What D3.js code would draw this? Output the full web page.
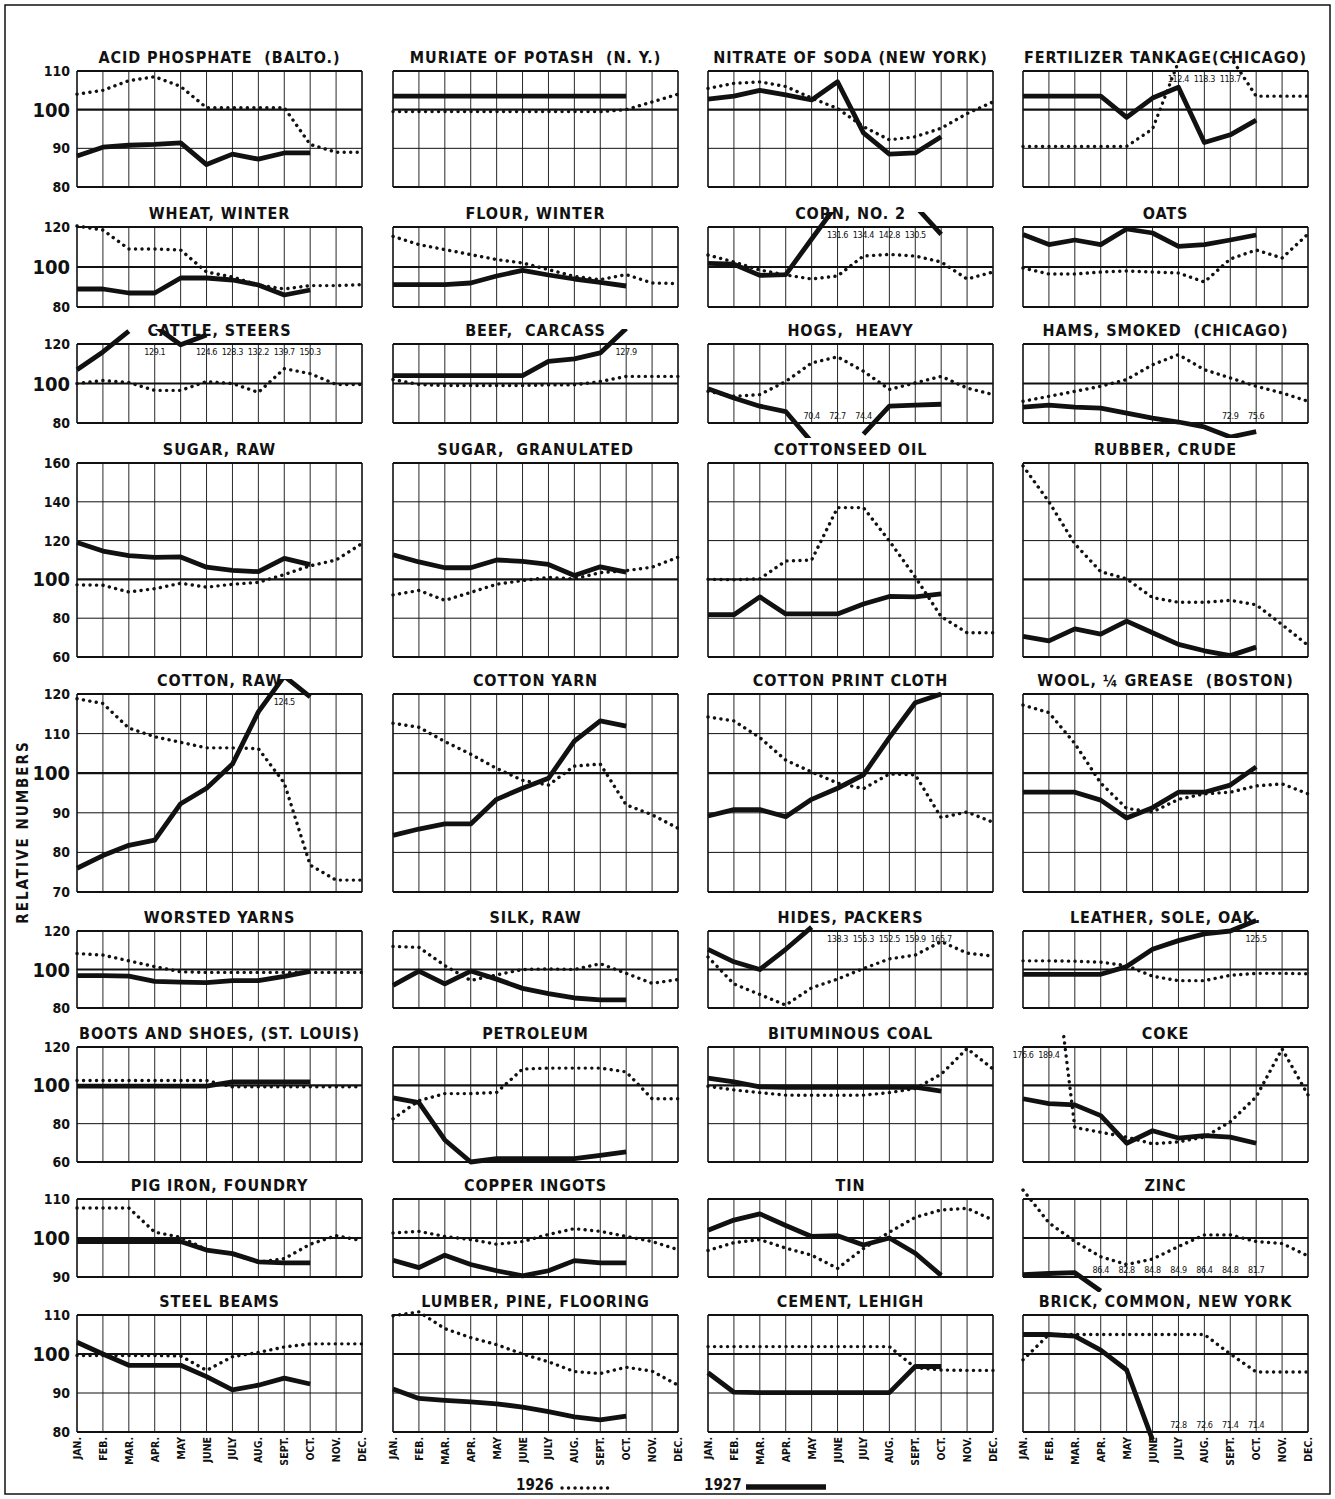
<!DOCTYPE html>
<html>
<head>
<meta charset="utf-8">
<script src="https://cdnjs.cloudflare.com/ajax/libs/d3/7.8.5/d3.min.js"></script>
<style>
  body { margin: 0; background: #fff; }
  svg text { font-family: "Liberation Sans Narrow", "DejaVu Sans Condensed", "Roboto", sans-serif; fill: #111; }
</style>
</head>
<body>
<svg id="chart" width="1335" height="1499"></svg>
<script>
// ---- data: relative numbers, 1926 (dotted, Jan-Dec) and 1927 (solid, Jan-Oct) ----
var monthLabels = ["JAN.", "FEB.", "MAR.", "APR.", "MAY", "JUNE", "JULY", "AUG.", "SEPT.", "OCT.", "NOV.", "DEC."];

var rowTicks = [
  [80, 90, 100, 110],
  [80, 100, 120],
  [80, 100, 120],
  [60, 80, 100, 120, 140, 160],
  [70, 80, 90, 100, 110, 120],
  [80, 100, 120],
  [60, 80, 100, 120],
  [90, 100, 110],
  [80, 90, 100, 110]
];

var titles = [
  "ACID PHOSPHATE  (BALTO.)", "MURIATE OF POTASH  (N. Y.)", "NITRATE OF SODA (NEW YORK)", "FERTILIZER TANKAGE(CHICAGO)",
  "WHEAT, WINTER", "FLOUR, WINTER", "CORN, NO. 2", "OATS",
  "CATTLE, STEERS", "BEEF,  CARCASS", "HOGS,  HEAVY", "HAMS, SMOKED  (CHICAGO)",
  "SUGAR, RAW", "SUGAR,  GRANULATED", "COTTONSEED OIL", "RUBBER, CRUDE",
  "COTTON, RAW", "COTTON YARN", "COTTON PRINT CLOTH", "WOOL, \u00BC GREASE  (BOSTON)",
  "WORSTED YARNS", "SILK, RAW", "HIDES, PACKERS", "LEATHER, SOLE, OAK.",
  "BOOTS AND SHOES, (ST. LOUIS)", "PETROLEUM", "BITUMINOUS COAL", "COKE",
  "PIG IRON, FOUNDRY", "COPPER INGOTS", "TIN", "ZINC",
  "STEEL BEAMS", "LUMBER, PINE, FLOORING", "CEMENT, LEHIGH", "BRICK, COMMON, NEW YORK"
];

var acid26 = [104, 105, 107.5, 108.5, 106, 100.5, 100.5, 100.5, 100.5, 91, 89, 89];
var acid27 = [88, 90.3, 90.8, 91, 91.4, 85.8, 88.5, 87.2, 88.8, 88.8];
var potash26 = [99.5, 99.5, 99.5, 99.5, 99.5, 99.5, 99.5, 99.5, 99.5, 100, 102, 104];
var potash27 = [103.5, 103.5, 103.5, 103.5, 103.5, 103.5, 103.5, 103.5, 103.5, 103.5];
var nitrate26 = [105.5, 106.8, 107.2, 106, 103, 100.3, 95.6, 92.2, 93, 95.2, 99, 102];
var nitrate27 = [102.7, 103.5, 105, 103.8, 102.5, 107.2, 94, 88.5, 88.8, 93];
var tankage26 = [90.5, 90.5, 90.5, 90.5, 90.5, 95, 112.4, 118.3, 113.7, 103.5, 103.5, 103.5];
var tankage27 = [103.5, 103.5, 103.5, 103.5, 98, 103, 105.8, 91.5, 93.5, 97.3];

var wheat26 = [120.5, 118.5, 109, 109, 108.5, 97.5, 95, 91, 89, 90.7, 90.7, 91.2];
var wheat27 = [89, 89, 87, 87, 94.5, 94.5, 93.5, 91, 86, 88.5];
var flour26 = [115.3, 111.2, 108.7, 106.2, 103.7, 102, 98.7, 95.3, 93.7, 96.2, 92, 91.7];
var flour27 = [91.2, 91.2, 91.2, 92, 95.5, 98.3, 96, 94, 92.3, 90.5];
var corn26 = [106, 102.5, 98.5, 96, 94, 95.5, 105.5, 106.3, 105.5, 102.5, 94, 97.5];
var corn27 = [101.8, 101.4, 95.8, 96.2, 114, 131.6, 134.4, 142.8, 130.5, 116.3];
var oats26 = [99.5, 96.5, 96.5, 97.5, 98, 97.5, 97, 92.5, 104, 108.5, 104.5, 116.5];
var oats27 = [116.2, 111.2, 113.5, 111.2, 119, 117, 110.3, 111.2, 113.5, 116];

var cattle26 = [100, 101.5, 100.5, 96.5, 96.5, 101, 100, 95.5, 107.5, 105, 99.5, 99.5];
var cattle27 = [107, 116, 126.5, 129.1, 119.6, 124.6, 128.3, 132.2, 139.7, 150.3];
var beef26 = [102, 99.5, 99, 99, 99, 99, 99.3, 99.3, 101, 103.6, 103.6, 103.6];
var beef27 = [104, 104, 104, 104, 104, 104, 111.2, 112.5, 115.5, 127.9];
var hogs26 = [96, 93.5, 94.4, 101, 110.4, 113.5, 106.2, 97, 100.3, 103.6, 97.7, 94.4];
var hogs27 = [97.4, 92.7, 88.5, 85.8, 70.4, 72.7, 74.4, 88.5, 89, 89.5];
var hams26 = [91, 93.5, 96, 98.6, 102, 109.5, 114.6, 107, 102.8, 98.6, 95.2, 91];
var hams27 = [88, 89, 88, 87.5, 85, 82.5, 80.5, 78, 72.9, 75.6];

var sugar26 = [97.2, 97, 93.5, 95.2, 98, 96, 97.5, 98.5, 102.5, 107, 110, 118.5];
var sugar27 = [119, 114.6, 112.3, 111.4, 111.6, 106.3, 104.6, 104, 110.8, 107.6];
var granulated26 = [92, 94.3, 89.2, 93.3, 97.5, 99.4, 101, 100.3, 103.5, 104.5, 106.3, 111.4];
var granulated27 = [112.7, 109, 106, 106, 110, 109.3, 107.7, 102, 106.5, 103.8];
var cottonseed26 = [100.1, 99.8, 100.3, 109.5, 110, 137, 137, 119.8, 101.2, 80.8, 72.5, 72.5];
var cottonseed27 = [81.8, 81.8, 91, 82.2, 82.2, 82.2, 87.3, 91.2, 91, 92.5];
var rubber26 = [158.5, 140, 118.3, 104, 100.3, 90.6, 88.2, 88.2, 89.2, 86.9, 76.7, 66];
var rubber27 = [70.6, 68.3, 74.5, 71.8, 78.5, 72.5, 66.5, 63.2, 60.7, 65.1];

var cottonRaw26 = [118.8, 117.6, 111.4, 109.2, 107.8, 106.4, 106.4, 106.2, 97.5, 76.8, 73, 73];
var cottonRaw27 = [76, 79.2, 81.8, 83.1, 92.3, 96.2, 102.3, 115.5, 124.5, 119.3];
var yarn26 = [112.6, 111.6, 108, 104.8, 101.2, 98.2, 97, 101.8, 102.3, 92, 89.5, 86.1];
var yarn27 = [84.3, 85.9, 87.2, 87.2, 93.4, 96.2, 98.7, 108.1, 113.2, 111.9];
var printCloth26 = [114.2, 113.2, 109, 103.3, 100.3, 97.5, 96.1, 99.8, 99.6, 88.8, 90.2, 87.6];
var printCloth27 = [89.2, 90.8, 90.8, 89, 93.4, 96.2, 99.6, 109, 117.8, 120];
var wool26 = [117.2, 115.3, 107.5, 97.5, 91.1, 90.2, 93.4, 94.8, 95.2, 96.8, 97.3, 94.8];
var wool27 = [95.2, 95.2, 95.2, 93.2, 88.7, 91.3, 95.2, 95.2, 97, 101.6];

var worsted26 = [108.3, 107.5, 104.5, 101.5, 98.8, 98.5, 98.5, 98.5, 98.5, 98.5, 98.5, 98.5];
var worsted27 = [96.8, 96.8, 96.6, 93.8, 93.4, 93.2, 94.2, 94.2, 96.4, 99];
var silk26 = [112, 111.5, 102, 94.3, 97.2, 100, 100.3, 100, 103, 98, 92.8, 94.8];
var silk27 = [91.8, 99.2, 92.5, 99.2, 95, 90.2, 87.5, 85.2, 84.2, 84.2];
var hides26 = [106.5, 92.5, 87, 81.5, 90.5, 95, 100.5, 105.5, 107.5, 114.5, 108.5, 107];
var hides27 = [110.5, 104, 100, 110.5, 122, 138.3, 155.3, 152.5, 159.9, 165.7];
var leather26 = [104.5, 104.5, 104.3, 103.8, 102, 96.5, 94.2, 94.2, 97, 98, 98, 97.8];
var leather27 = [97.5, 97.5, 97.5, 97.5, 101.5, 110.5, 115, 118.5, 120, 125.5];

var boots26 = [102.5, 102.5, 102.5, 102.5, 102.5, 102.5, 99.2, 99.2, 99.2, 99.2, 99.2, 99.2];
var boots27 = [99.6, 99.6, 99.6, 99.6, 99.6, 99.6, 101.8, 101.8, 101.8, 101.8];
var petroleum26 = [82.5, 92, 95.7, 95.7, 96.3, 108.5, 109, 109, 109, 107, 93, 93];
var petroleum27 = [93.5, 91, 71.5, 60, 61.8, 61.8, 61.8, 61.8, 63.5, 65.3];
var coal26 = [99.5, 97.6, 96.2, 94.9, 94.8, 94.8, 94.9, 96.2, 98.3, 105.8, 119.2, 108.5];
var coal27 = [103.8, 101.8, 99.2, 99, 99, 99, 99, 99, 99, 97];
var coke26 = [176.6, 189.4, 78, 75.5, 73, 69.5, 70.5, 73, 81, 94, 119, 95];
var coke27 = [93, 90.5, 89.8, 84.2, 69.8, 76.3, 72.5, 73.8, 73, 69.8];

var pig26 = [107.7, 107.7, 107.7, 101.5, 100.2, 97, 95.8, 93.8, 94.7, 98.4, 100.6, 99.3];
var pig27 = [99.1, 99.1, 99.1, 99.1, 99.1, 96.9, 96, 93.9, 93.6, 93.6];
var copper26 = [101.3, 101.7, 100.4, 99.6, 98.4, 99.1, 100.9, 102.4, 101.7, 100.4, 99.1, 97];
var copper27 = [94.3, 92.4, 95.6, 93.2, 91.6, 90.3, 91.6, 94.2, 93.6, 93.6];
var tin26 = [96.8, 98.8, 99.6, 97.4, 95.6, 92.2, 97.3, 101.5, 105.3, 107.2, 107.6, 104.6];
var tin27 = [102, 104.6, 106.2, 103.2, 100.4, 100.6, 98.2, 100, 96.1, 90.4];
var zinc26 = [112.3, 103.9, 99.1, 95.2, 93.2, 94.6, 97.8, 100.8, 100.8, 99.1, 98.6, 95.4];
var zinc27 = [90.6, 90.9, 91.1, 86.4, 82.8, 84.8, 84.9, 86.4, 84.8, 81.7];

var steel26 = [99.6, 99.6, 99.6, 99.6, 99.5, 95.8, 99.3, 100.4, 101.8, 102.6, 102.6, 102.6];
var steel27 = [103, 100, 97.1, 97.1, 97.1, 94.2, 90.8, 92, 93.8, 92.3];
var lumber26 = [109.8, 110.8, 106.5, 104.2, 102.4, 100, 98, 95.5, 95, 96.6, 95.6, 92];
var lumber27 = [91, 88.6, 88.1, 87.7, 87.2, 86.4, 85.2, 83.9, 83.1, 84.1];
var cement26 = [101.9, 101.9, 101.9, 101.9, 101.9, 101.9, 101.9, 101.9, 96.5, 95.9, 95.8, 95.8];
var cement27 = [95.2, 90.2, 90.1, 90.1, 90.1, 90.1, 90.1, 90.1, 96.8, 96.8];
var brick26 = [98.5, 105, 105, 105, 105, 105, 105, 105, 100, 95.4, 95.4, 95.4];
var brick27 = [105, 105, 104.6, 101, 95.9, 78, 72.8, 72.6, 71.4, 71.4];

// off-scale values printed as numbers: [month index, text]
var tankage26Labels = [[6, "112.4"], [7, "118.3"], [8, "113.7"]];
var corn27Labels = [[5, "131.6"], [6, "134.4"], [7, "142.8"], [8, "130.5"]];
var cattle27Labels = [[3, "129.1"], [5, "124.6"], [6, "128.3"], [7, "132.2"], [8, "139.7"], [9, "150.3"]];
var beef27Labels = [[9, "127.9"]];
var hogs27Labels = [[4, "70.4"], [5, "72.7"], [6, "74.4"]];
var hams27Labels = [[8, "72.9"], [9, "75.6"]];
var cottonRaw27Labels = [[8, "124.5"]];
var hides27Labels = [[5, "138.3"], [6, "155.3"], [7, "152.5"], [8, "159.9"], [9, "165.7"]];
var leather27Labels = [[9, "125.5"]];
var coke26Labels = [[0, "176.6"], [1, "189.4"]];
var zinc27Labels = [[3, "86.4"], [4, "82.8"], [5, "84.8"], [6, "84.9"], [7, "86.4"], [8, "84.8"], [9, "81.7"]];
var brick27Labels = [[6, "72.8"], [7, "72.6"], [8, "71.4"], [9, "71.4"]];

// month index i: the stretch i -> i+1 lies wholly off the chart and is not drawn
var tankage26Gaps = [6, 7];
var corn27Gaps = [5, 6, 7];
var cattle27Gaps = [2, 5, 6, 7, 8];
var hogs27Gaps = [4, 5];
var hides27Gaps = [4, 5, 6, 7, 8];
var coke26Gaps = [0];
var zinc27Gaps = [3, 4, 5, 6, 7, 8];
var brick27Gaps = [5, 6, 7, 8];

var series26 = [acid26, potash26, nitrate26, tankage26, wheat26, flour26, corn26, oats26,
  cattle26, beef26, hogs26, hams26, sugar26, granulated26, cottonseed26, rubber26,
  cottonRaw26, yarn26, printCloth26, wool26, worsted26, silk26, hides26, leather26,
  boots26, petroleum26, coal26, coke26, pig26, copper26, tin26, zinc26,
  steel26, lumber26, cement26, brick26];
var series27 = [acid27, potash27, nitrate27, tankage27, wheat27, flour27, corn27, oats27,
  cattle27, beef27, hogs27, hams27, sugar27, granulated27, cottonseed27, rubber27,
  cottonRaw27, yarn27, printCloth27, wool27, worsted27, silk27, hides27, leather27,
  boots27, petroleum27, coal27, coke27, pig27, copper27, tin27, zinc27,
  steel27, lumber27, cement27, brick27];
var labels26 = {3: tankage26Labels, 27: coke26Labels};
var labels27 = {6: corn27Labels, 8: cattle27Labels, 9: beef27Labels, 10: hogs27Labels, 11: hams27Labels,
  16: cottonRaw27Labels, 22: hides27Labels, 23: leather27Labels, 31: zinc27Labels, 35: brick27Labels};
var gaps26 = {3: tankage26Gaps, 27: coke26Gaps};
var gaps27 = {6: corn27Gaps, 8: cattle27Gaps, 10: hogs27Gaps, 22: hides27Gaps, 31: zinc27Gaps, 35: brick27Gaps};

// ---- layout ----
var svg = d3.select("#chart");
var defs = svg.append("defs");
var colLeft = [77, 393, 708, 1023], colW = 285;
var rowBox = [[71, 187], [227, 307], [344, 423], [463, 657], [694, 892],
              [931, 1008], [1047, 1162], [1199, 1277], [1315, 1432]];
var over = 15;

svg.append("rect").attr("x", 5).attr("y", 5).attr("width", 1325).attr("height", 1489)
  .attr("fill", "none").attr("stroke", "#111").attr("stroke-width", 1.5);

function runs(vals, gaps) {
  var out = [], cur = [];
  vals.forEach(function(v, i) {
    cur.push([i, v]);
    if (gaps.indexOf(i) >= 0) { out.push(cur); cur = []; }
  });
  out.push(cur);
  return out.filter(function(r) { return r.length > 1; });
}

function drawSeries(g, vals, gaps, x, y, cid, dotted) {
  var line = d3.line().x(function(d) { return x(d[0]); }).y(function(d) { return y(d[1]); });
  g.append("g").attr("clip-path", "url(#" + cid + ")")
    .selectAll("path").data(runs(vals, gaps || [])).enter().append("path")
    .attr("d", line)
    .attr("fill", "none")
    .attr("stroke", "#111")
    .attr("stroke-width", dotted ? 3.4 : 4.8)
    .attr("stroke-linecap", dotted ? "round" : "butt")
    .attr("stroke-linejoin", "round")
    .attr("stroke-dasharray", dotted ? "0.1 6.4" : null);
}

function drawLabels(g, labs, x, y, lo, hi) {
  if (!labs) return;
  g.selectAll("text.val").data(labs).enter().append("text")
    .attr("class", "val")
    .attr("x", function(d) { return x(d[0]); })
    .attr("y", function(d) { return +d[1] > hi ? y(hi) + 11 : y(lo) - 4; })
    .attr("text-anchor", "middle")
    .attr("font-size", 9)
    .attr("letter-spacing", -0.4)
    .text(function(d) { return d[1]; });
}

titles.forEach(function(title, i) {
  var r = Math.floor(i / 4), c = i % 4;
  var ticks = rowTicks[r];
  var lo = ticks[0], hi = ticks[ticks.length - 1];
  var top = rowBox[r][0], bot = rowBox[r][1];
  var x = d3.scaleLinear().domain([0, 11]).range([colLeft[c], colLeft[c] + colW]);
  var y = d3.scaleLinear().domain([lo, hi]).range([bot, top]);
  var g = svg.append("g");
  var cid = "clip" + i;

  defs.append("clipPath").attr("id", cid).append("rect")
    .attr("x", colLeft[c] - 3).attr("y", top - over)
    .attr("width", colW + 6).attr("height", bot - top + 2 * over);

  g.selectAll("line.v").data(d3.range(12)).enter().append("line")
    .attr("x1", x).attr("x2", x).attr("y1", top).attr("y2", bot)
    .attr("stroke", "#111")
    .attr("stroke-width", function(d) { return (d === 0 || d === 11) ? 1.6 : 0.9; });

  g.selectAll("line.h").data(ticks).enter().append("line")
    .attr("x1", colLeft[c]).attr("x2", colLeft[c] + colW)
    .attr("y1", y).attr("y2", y)
    .attr("stroke", "#111")
    .attr("stroke-width", function(d) { return d === 100 ? 2.2 : (d === lo || d === hi) ? 1.8 : 1; });

  g.append("text")
    .attr("x", colLeft[c] + colW / 2).attr("y", top - 8)
    .attr("text-anchor", "middle")
    .attr("font-size", 16)
    .attr("font-weight", "bold")
    .attr("letter-spacing", 0.9)
    .style("white-space", "pre")
    .text(title);

  if (c === 0) {
    g.selectAll("text.tick").data(ticks).enter().append("text")
      .attr("x", 70).attr("y", function(d) { return y(d) + (d === 100 ? 7 : 5); })
      .attr("text-anchor", "end")
      .attr("font-size", function(d) { return d === 100 ? 20 : 14; })
      .attr("font-weight", "bold")
      .text(function(d) { return d; });
  }

  drawSeries(g, series26[i], gaps26[i], x, y, cid, true);
  drawSeries(g, series27[i], gaps27[i], x, y, cid, false);
  drawLabels(g, labels26[i], x, y, lo, hi);
  drawLabels(g, labels27[i], x, y, lo, hi);

  if (r === rowBox.length - 1) {
    g.selectAll("text.month").data(monthLabels).enter().append("text")
      .attr("transform", function(d, k) { return "translate(" + (x(k) + 4) + ",1437) rotate(-90)"; })
      .attr("text-anchor", "end")
      .attr("font-size", 10.5)
      .attr("font-weight", "bold")
      .text(function(d) { return d; });
  }
});

// axis title
svg.append("text")
  .attr("transform", "translate(28,832) rotate(-90)")
  .attr("text-anchor", "middle")
  .attr("font-size", 15)
  .attr("font-weight", "bold")
  .attr("letter-spacing", 2)
  .text("RELATIVE NUMBERS");

// legend
var legendY = 1485;
svg.append("text").attr("x", 516).attr("y", legendY + 5).attr("font-size", 15).attr("font-weight", "bold").text("1926");
svg.append("line").attr("x1", 562).attr("x2", 610).attr("y1", legendY + 3).attr("y2", legendY + 3)
  .attr("stroke", "#111").attr("stroke-width", 3.4).attr("stroke-linecap", "round").attr("stroke-dasharray", "0.1 6.4");
svg.append("text").attr("x", 704).attr("y", legendY + 5).attr("font-size", 15).attr("font-weight", "bold").text("1927");
svg.append("line").attr("x1", 746).attr("x2", 826).attr("y1", legendY + 2).attr("y2", legendY + 2)
  .attr("stroke", "#111").attr("stroke-width", 5.5);
</script>
</body>
</html>
